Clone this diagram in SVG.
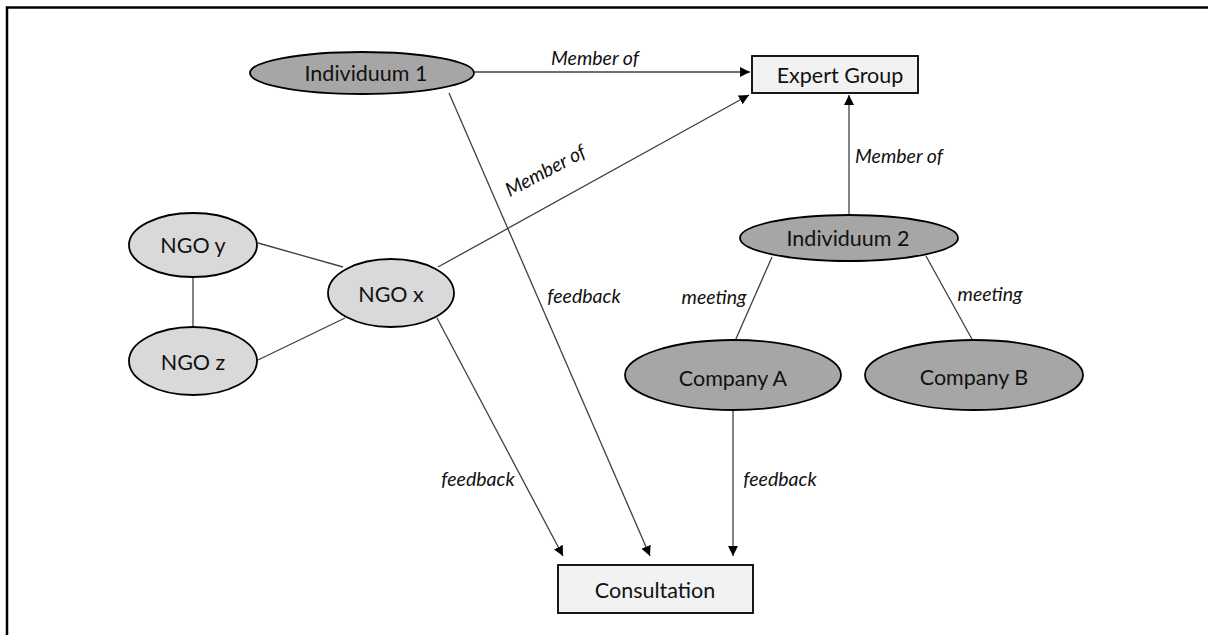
<svg xmlns="http://www.w3.org/2000/svg" width="1208" height="635" viewBox="0 0 1208 635">
  <style>
    .dark { fill: #a6a6a6; stroke: #000; stroke-width: 1.8; }
    .light { fill: #d9d9d9; stroke: #000; stroke-width: 1.8; }
    .box { fill: #f2f2f2; stroke: #000; stroke-width: 1.8; }
    .lbl { font-family: Lato, "Liberation Sans", sans-serif; font-size: 21.5px; fill: #111; text-anchor: middle; dominant-baseline: central; }
    .edge { font-family: Lato, "Liberation Sans", sans-serif; font-size: 19.5px; font-style: italic; fill: #111; text-anchor: middle; dominant-baseline: central; }
    .ln { stroke: #404040; stroke-width: 1.3; fill: none; }
    .arr { marker-end: url(#head); }
  </style>
  <defs>
    <marker id="head" viewBox="0 0 10 10" refX="10" refY="5" markerWidth="10" markerHeight="10" markerUnits="userSpaceOnUse" orient="auto">
      <path d="M0,0 L10,5 L0,10 z" fill="#000"/>
    </marker>
  </defs>
  <rect width="1208" height="635" fill="#fff"/>
  <!-- page frame: top and left rule -->
  <path d="M7,635 V7.5 H1208" fill="none" stroke="#000" stroke-width="2.5"/>

  <g id="connectors">
    <line class="ln arr" x1="475" y1="72" x2="750" y2="72"/>
    <line class="ln arr" x1="449" y1="93" x2="650" y2="556"/>
    <line class="ln arr" x1="438" y1="267" x2="749" y2="95"/>
    <line class="ln arr" x1="849" y1="215" x2="849" y2="95"/>
    <line class="ln" x1="772" y1="257" x2="735" y2="341"/>
    <line class="ln" x1="926" y1="256" x2="973" y2="341"/>
    <line class="ln arr" x1="733" y1="410" x2="733" y2="556"/>
    <line class="ln arr" x1="437" y1="318" x2="563" y2="556"/>
    <line class="ln" x1="193" y1="277" x2="193" y2="327"/>
    <line class="ln" x1="258" y1="243" x2="343" y2="267"/>
    <line class="ln" x1="258" y1="360" x2="345" y2="318"/>
    <text class="edge" x="595" y="57">Member of</text>
    <text class="edge" x="899" y="155">Member of</text>
    <text class="edge" x="545" y="170" transform="rotate(-28 545 170)">Member of</text>
    <text class="edge" x="584" y="295">feedback</text>
    <text class="edge" x="714" y="296">meeting</text>
    <text class="edge" x="990" y="293">meeting</text>
    <text class="edge" x="478" y="478">feedback</text>
    <text class="edge" x="780" y="478">feedback</text>
  </g>

  <g id="individuum1">
    <ellipse class="dark" cx="362" cy="73" rx="112" ry="21"/>
    <text class="lbl" x="366" y="73">Individuum 1</text>
  </g>
  <g id="expert-group">
    <rect class="box" x="752" y="56" width="166" height="37"/>
    <text class="lbl" x="840" y="75">Expert Group</text>
  </g>
  <g id="individuum2">
    <ellipse class="dark" cx="849" cy="238" rx="109" ry="23"/>
    <text class="lbl" x="848" y="238">Individuum 2</text>
  </g>
  <g id="company-a">
    <ellipse class="dark" cx="733" cy="375" rx="108" ry="35"/>
    <text class="lbl" x="733" y="378">Company A</text>
  </g>
  <g id="company-b">
    <ellipse class="dark" cx="974" cy="375" rx="109" ry="35"/>
    <text class="lbl" x="974" y="377">Company B</text>
  </g>
  <g id="ngo-x">
    <ellipse class="light" cx="391" cy="293" rx="63" ry="34"/>
    <text class="lbl" x="391" y="294">NGO x</text>
  </g>
  <g id="ngo-y">
    <ellipse class="light" cx="193" cy="245" rx="64" ry="32"/>
    <text class="lbl" x="193" y="245">NGO y</text>
  </g>
  <g id="ngo-z">
    <ellipse class="light" cx="193" cy="361" rx="64" ry="34"/>
    <text class="lbl" x="193" y="362">NGO z</text>
  </g>
  <g id="consultation">
    <rect class="box" x="558" y="565" width="195" height="48"/>
    <text class="lbl" x="655" y="590">Consultation</text>
  </g>
</svg>
